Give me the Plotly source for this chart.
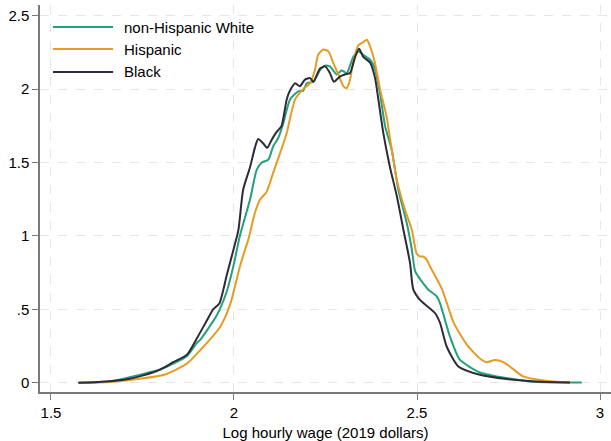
import plotly.graph_objects as go

# ---- data ----
white_x = [1.575, 1.661, 1.752, 1.798, 1.834, 1.871, 1.898, 1.907, 1.953, 1.980, 1.998, 2.016,
           2.044, 2.062, 2.076, 2.094, 2.107, 2.121, 2.135, 2.153, 2.176, 2.189, 2.199, 2.217,
           2.235, 2.249, 2.262, 2.281, 2.294, 2.308, 2.326, 2.340, 2.353, 2.372, 2.385, 2.399,
           2.413, 2.431, 2.449, 2.472, 2.486, 2.495, 2.513, 2.531, 2.554, 2.563, 2.590, 2.617,
           2.672, 2.718, 2.745, 2.809, 2.870, 2.950]
white_y = [0.0, 0.01, 0.06, 0.09, 0.13, 0.18, 0.27, 0.29, 0.46, 0.62, 0.79, 1.0,
           1.25, 1.45, 1.50, 1.52, 1.61, 1.667, 1.77, 1.93, 1.985, 1.99, 2.04, 2.05,
           2.13, 2.16, 2.155, 2.10, 2.127, 2.11, 2.22, 2.257, 2.234, 2.20, 2.14, 1.97,
           1.746, 1.587, 1.315, 1.088, 0.906, 0.758, 0.69, 0.634, 0.588, 0.54, 0.315, 0.157,
           0.07, 0.043, 0.032, 0.009, 0.003, 0.002]

hisp_x = [1.575, 1.661, 1.752, 1.816, 1.871, 1.907, 1.962, 1.989, 2.016, 2.030, 2.039, 2.057,
          2.071, 2.089, 2.107, 2.126, 2.144, 2.153, 2.167, 2.189, 2.208, 2.221, 2.230, 2.244,
          2.258, 2.271, 2.285, 2.299, 2.308, 2.317, 2.326, 2.340, 2.353, 2.363, 2.372, 2.385,
          2.399, 2.417, 2.431, 2.445, 2.467, 2.486, 2.499, 2.508, 2.517, 2.526, 2.536, 2.568,
          2.600, 2.636, 2.672, 2.690, 2.713, 2.736, 2.759, 2.790, 2.836, 2.890, 2.920]
hisp_y = [0.0, 0.005, 0.03, 0.06, 0.13, 0.22, 0.38, 0.53, 0.79, 0.906, 0.974, 1.156,
          1.247, 1.30, 1.43, 1.565, 1.70, 1.80, 1.93, 2.0, 2.04, 2.13, 2.234, 2.27,
          2.257, 2.18, 2.10, 2.02, 2.007, 2.064, 2.19, 2.30, 2.32, 2.336, 2.29, 2.18,
          2.0, 1.81, 1.587, 1.38, 1.18, 1.04, 0.88, 0.86, 0.86, 0.84, 0.79, 0.64,
          0.41, 0.26, 0.165, 0.14, 0.155, 0.14, 0.10, 0.043, 0.018, 0.005, 0.002]

black_x = [1.575, 1.620, 1.661, 1.700, 1.752, 1.798, 1.834, 1.871, 1.898, 1.925, 1.943, 1.960,
           1.980, 2.000, 2.012, 2.025, 2.044, 2.057, 2.066, 2.080, 2.091, 2.103, 2.117, 2.130,
           2.144, 2.153, 2.167, 2.180, 2.194, 2.208, 2.217, 2.235, 2.249, 2.262, 2.273, 2.290,
           2.303, 2.317, 2.331, 2.342, 2.353, 2.372, 2.385, 2.395, 2.408, 2.426, 2.445, 2.463,
           2.481, 2.490, 2.508, 2.549, 2.563, 2.581, 2.613, 2.672, 2.745, 2.854, 2.918]
black_y = [0.0, 0.003, 0.01, 0.02, 0.05, 0.09, 0.14, 0.19, 0.30, 0.42, 0.50, 0.54,
           0.73, 0.92, 1.04, 1.315, 1.47, 1.60, 1.66, 1.63, 1.60, 1.655, 1.71, 1.75,
           1.93, 1.99, 2.04, 2.02, 2.065, 2.075, 2.05, 2.14, 2.155, 2.11, 2.05, 2.087,
           2.10, 2.11, 2.22, 2.275, 2.22, 2.18, 2.08, 1.92, 1.70, 1.47, 1.27, 1.04,
           0.815, 0.634, 0.565, 0.475, 0.407, 0.247, 0.111, 0.054, 0.025, 0.005, 0.002]

series_names = ["non-Hispanic White", "Hispanic", "Black"]
series_colors = ["#23a17b", "#e69b25", "#2c2b38"]

x_ticks = [1.5, 2, 2.5, 3]
x_ticktext = ["1.5", "2", "2.5", "3"]
y_ticks = [0, 0.5, 1, 1.5, 2, 2.5]
y_ticktext = ["0", ".5", "1", "1.5", "2", "2.5"]

FONT = "Liberation Sans, Arial, sans-serif"

fig = go.Figure()
for name, xs, ys, col in zip(series_names, [white_x, hisp_x, black_x],
                             [white_y, hisp_y, black_y], series_colors):
    fig.add_trace(go.Scatter(x=xs, y=ys, mode="lines", name=name,
                             line=dict(color=col, width=2, shape="spline", smoothing=0.6),
                             showlegend=False))

# manual legend (Stata-like: long line samples)
legend_rows = [0.943, 0.886, 0.827]
for name, col, yy in zip(series_names, series_colors, legend_rows):
    fig.add_shape(type="line", xref="paper", yref="paper",
                  x0=0.0228, x1=0.128, y0=yy, y1=yy,
                  line=dict(color=col, width=2))
    fig.add_annotation(text=name, xref="paper", yref="paper", x=0.144, y=yy,
                       xanchor="left", yanchor="middle", showarrow=False,
                       font=dict(family=FONT, size=15, color="#000000"))

fig.update_layout(
    width=611, height=441,
    margin=dict(l=40, r=0, t=5, b=49),
    paper_bgcolor="white", plot_bgcolor="white",
    font=dict(family=FONT, size=15, color="#000000"),
)
fig.update_xaxes(range=[1.47, 3.03], tickvals=x_ticks, ticktext=x_ticktext,
                 showgrid=True, gridcolor="#e6e6e6", griddash="dash", gridwidth=1,
                 zeroline=False, showline=True, linecolor="#7a7a7a", linewidth=1.5,
                 ticks="outside", ticklen=6, tickcolor="#7a7a7a", tickwidth=1.2,
                 title=dict(text="Log hourly wage (2019 dollars)", standoff=8,
                            font=dict(family=FONT, size=15)),
                 tickfont=dict(family=FONT, size=15))
fig.update_yaxes(range=[-0.063, 2.573], tickvals=y_ticks, ticktext=y_ticktext,
                 showgrid=True, gridcolor="#e6e6e6", griddash="dash", gridwidth=1,
                 zeroline=False, showline=True, linecolor="#7a7a7a", linewidth=1.5,
                 ticks="outside", ticklen=6, tickcolor="#7a7a7a", tickwidth=1.2,
                 tickfont=dict(family=FONT, size=15))

fig.write_html("out.html", config={"displayModeBar": False},
               post_script="document.body.style.margin='0';document.body.style.overflow='hidden';")
